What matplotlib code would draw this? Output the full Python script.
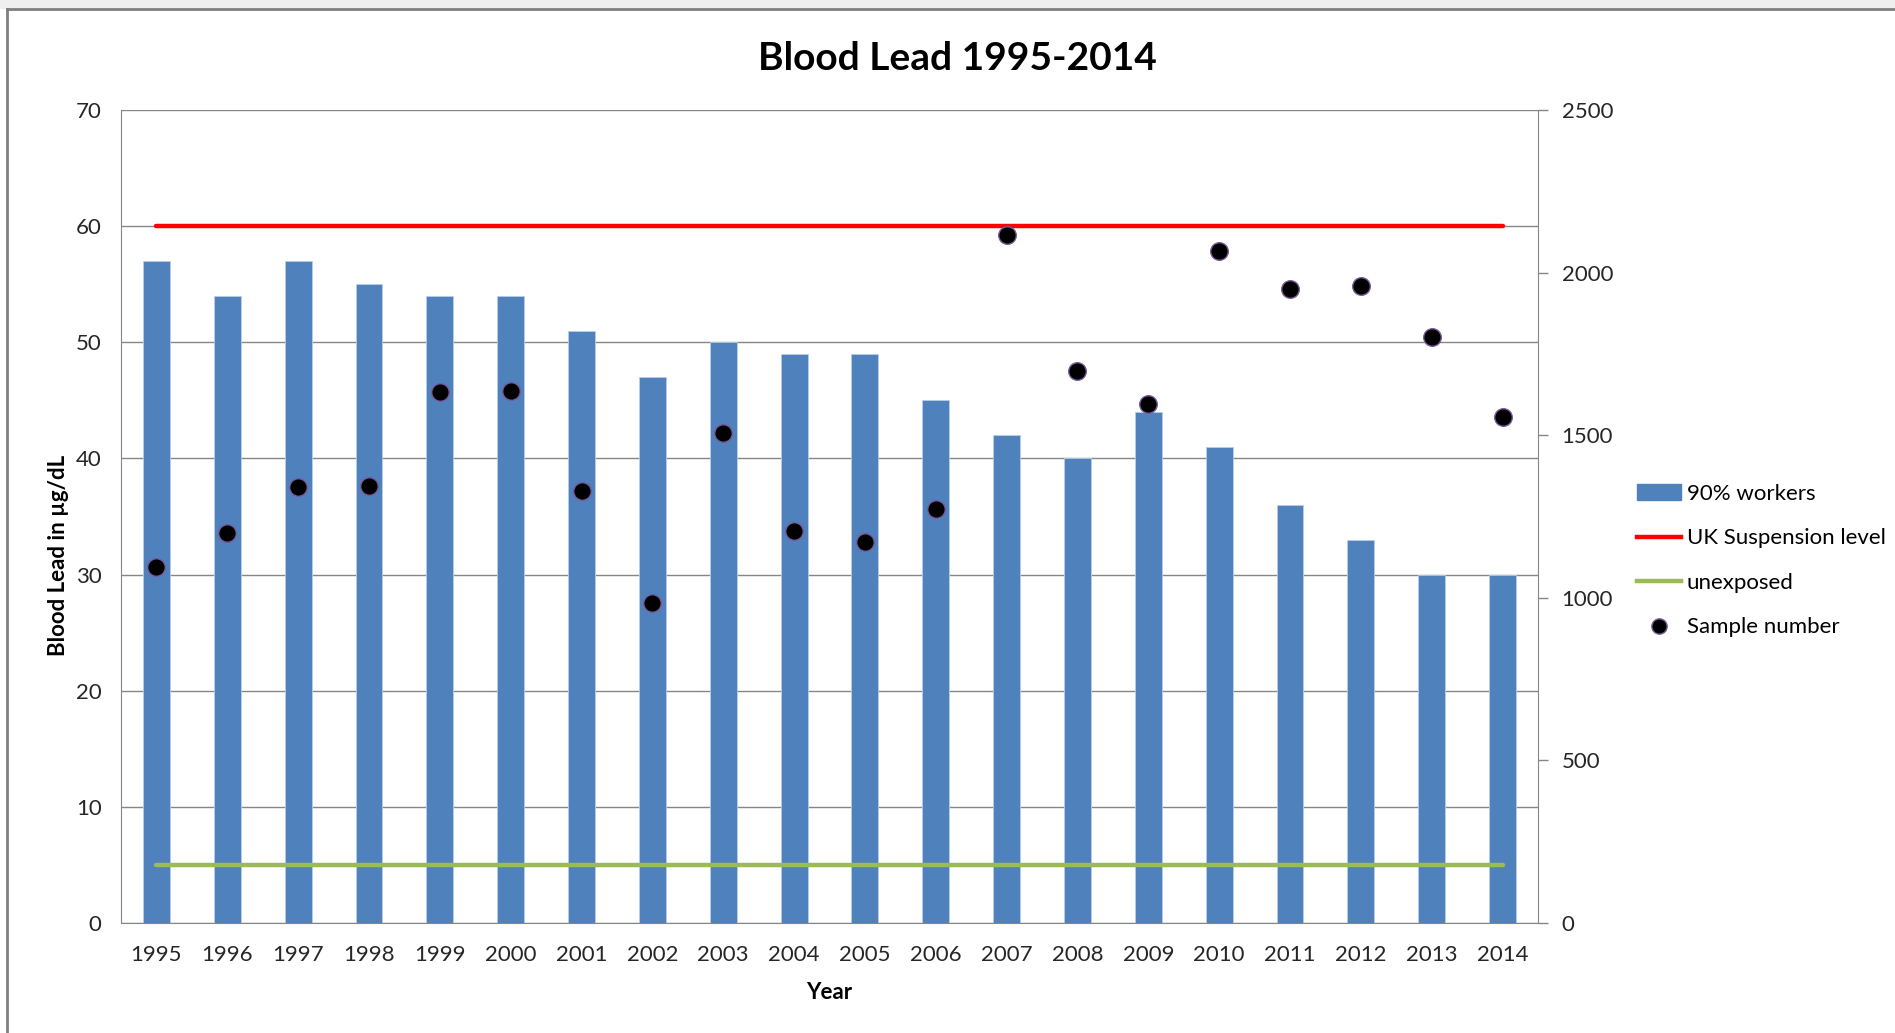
import matplotlib
matplotlib.use('Agg')
import matplotlib.pyplot as plt
from matplotlib.lines import Line2D
from matplotlib.patches import Rectangle, Patch
import numpy as np

plt.rcParams['font.family'] = ['Lato', 'DejaVu Sans']

# data
years = ['1995', '1996', '1997', '1998', '1999', '2000', '2001', '2002', '2003', '2004',
         '2005', '2006', '2007', '2008', '2009', '2010', '2011', '2012', '2013', '2014']
workers_90 = [57, 54, 57, 55, 54, 54, 51, 47, 50, 49, 49, 45, 42, 40, 44, 41, 36, 33, 30, 30]
suspension_level = [60] * 20
unexposed = [5] * 20
sample_number = [1096, 1198, 1340, 1344, 1633, 1637, 1328, 985, 1506, 1205,
                 1173, 1272, 2117, 1697, 1595, 2065, 1949, 1959, 1801, 1556]

W, H = 1895, 1033
fig = plt.figure(figsize=(W / 100, H / 100), dpi=100)
fig.patch.set_facecolor('white')

ax = fig.add_axes([121 / W, 110 / H, 1417 / W, 813 / H])
ax2 = ax.twinx()

x = np.arange(len(years))
tick_col = '#262626'
grid_col = '#868686'
fs = 16

ax.bar(x, workers_90, width=0.38, color='#4F81BD', edgecolor='#B9CDE5', linewidth=0.6, zorder=2)
ax.plot(x, suspension_level, color='#FF0000', lw=3.2, solid_capstyle='round', zorder=3)
ax.plot(x, unexposed, color='#9BBB59', lw=3.2, solid_capstyle='round', zorder=3)
ax2.scatter(x, sample_number, s=160, color='black', edgecolor='#7A5A9E', linewidth=1.0, zorder=4)

ax.set_xlim(-0.5, len(years) - 0.5)
ax.set_ylim(0, 70)
ax.set_yticks(range(0, 71, 10))
ax2.set_ylim(0, 2500)
ax2.set_yticks(range(0, 2501, 500))
ax.set_xticks(x)
ax.set_xticklabels(years)

ax.yaxis.grid(True, color=grid_col, lw=1.0, zorder=0)
ax.set_axisbelow(True)

for a in (ax, ax2):
    for s in a.spines.values():
        s.set_visible(False)
ax.spines['left'].set_visible(True)
ax.spines['left'].set_color(grid_col)
ax.spines['bottom'].set_visible(True)
ax.spines['bottom'].set_color(grid_col)
ax2.spines['right'].set_visible(True)
ax2.spines['right'].set_color(grid_col)

ax.tick_params(axis='y', length=0, pad=14, labelsize=fs, labelcolor=tick_col)
ax.tick_params(axis='x', length=0, pad=16, labelsize=fs, labelcolor=tick_col)
ax2.tick_params(axis='y', length=7, width=1, color=grid_col, pad=10,
                labelsize=fs, labelcolor=tick_col)

ax.set_xlabel('Year', fontsize=fs, fontweight='bold', color='black', labelpad=12)
ax.set_ylabel('Blood Lead in µg/dL', fontsize=fs, fontweight='bold', color='black')
ax.yaxis.set_label_coords(-0.0368, 0.4526)

fig.text(957 / W, 1 - 58 / H, 'Blood Lead 1995-2014', fontsize=28, fontweight='bold',
         ha='center', va='center')

handles = [Patch(facecolor='#4F81BD', edgecolor='#4F81BD'),
           Line2D([], [], color='#FF0000', lw=3.2),
           Line2D([], [], color='#9BBB59', lw=3.2),
           Line2D([], [], ls='none', marker='o', ms=11, color='black', mec='#7A5A9E')]
labels = ['90% workers', 'UK Suspension level', 'unexposed', 'Sample number']
fig.legend(handles, labels, loc='upper left', bbox_to_anchor=(1637 / W, 1 - 484 / H),
           frameon=False, fontsize=fs, handlelength=1.96, handletextpad=0.27,
           labelspacing=1.1, borderaxespad=0, borderpad=0)

# chart-area frame (top and left edge visible)
fig.add_artist(Rectangle((0, 1 - 9 / H), 1, 9 / H, transform=fig.transFigure,
                         facecolor='#EFEFEF', edgecolor='none'))
fig.add_artist(Line2D([7 / W, 1], [1 - 9 / H, 1 - 9 / H], transform=fig.transFigure,
                      color='#7F7F7F', lw=2))
fig.add_artist(Line2D([7 / W, 7 / W], [0, 1 - 9 / H], transform=fig.transFigure,
                      color='#7F7F7F', lw=2))

fig.savefig('out.png', dpi=100)
